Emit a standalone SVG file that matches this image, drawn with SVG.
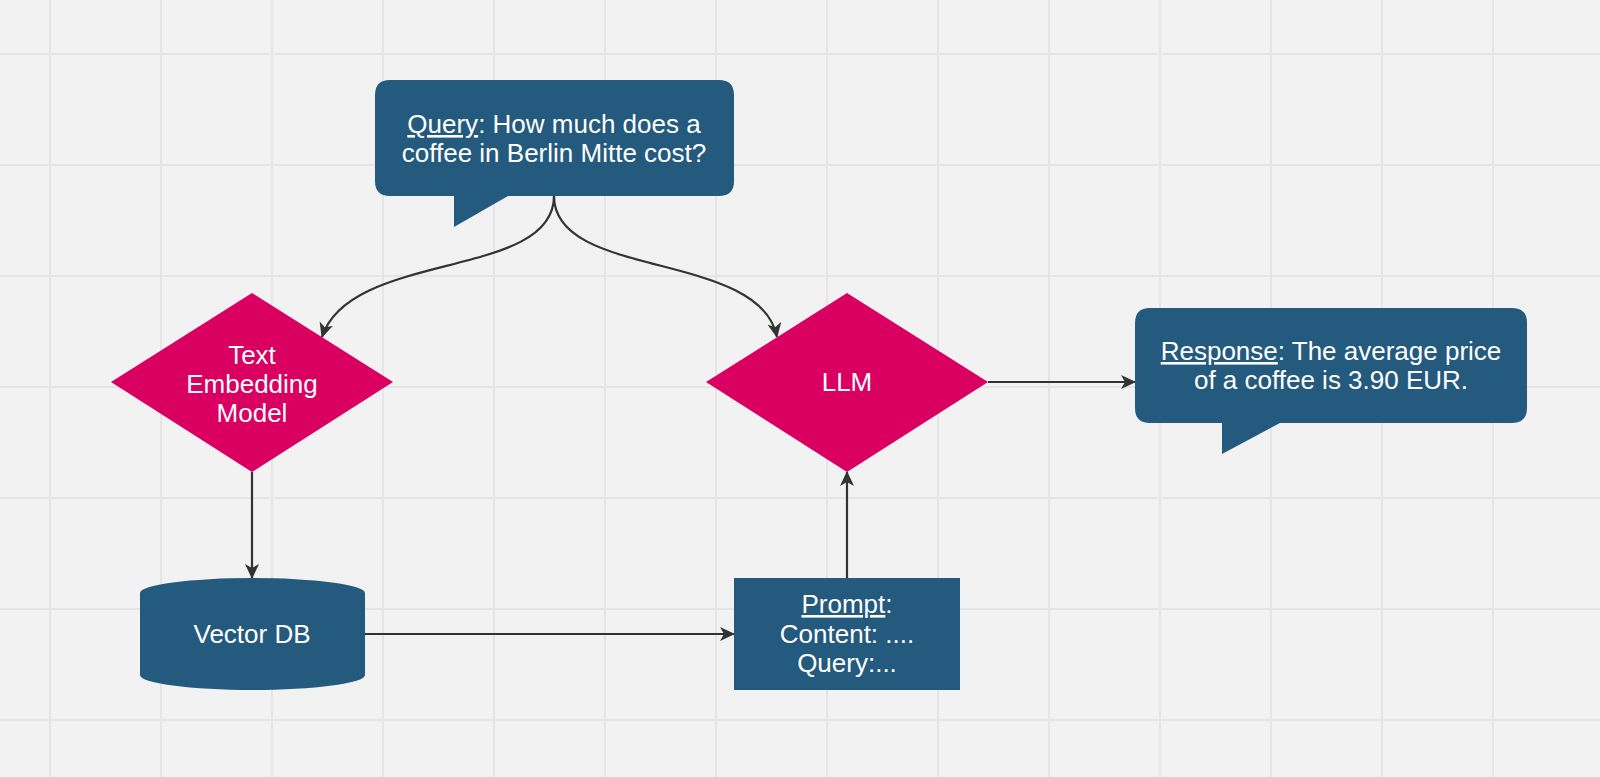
<svg xmlns="http://www.w3.org/2000/svg" width="1600" height="777" viewBox="0 0 1600 777">
  <defs>
    <style>
      .grid { stroke: #e5e5e5; stroke-width: 2; fill: none; }
      .blue { fill: #235a7e; }
      .pink { fill: #d90062; }
      .lbl { font-family: "Liberation Sans", Arial, sans-serif; font-size: 26px; fill: #ffffff; text-anchor: middle; }
      .conn { stroke: #333333; stroke-width: 2.2; fill: none; marker-end: url(#arrow); }
    </style>
    <marker id="arrow" markerUnits="userSpaceOnUse" markerWidth="16" markerHeight="16" refX="14" refY="8" orient="auto">
      <path d="M0,1 L15,8 L0,15 L4,8 Z" fill="#333333"/>
    </marker>
  </defs>

  <rect x="0" y="0" width="1600" height="777" fill="#f2f2f2"/>
  <g id="grid">
    <path class="grid" d="M50,0V777 M161,0V777 M272,0V777 M383,0V777 M494,0V777 M605,0V777 M716,0V777 M827,0V777 M938,0V777 M1049,0V777 M1160,0V777 M1271,0V777 M1382,0V777 M1493,0V777
      M0,54H1600 M0,165H1600 M0,276H1600 M0,387H1600 M0,498H1600 M0,609H1600 M0,720H1600"/>
  </g>

  <g id="connectors">
    <path class="conn" d="M554,196 C554,280 350,250 322,337"/>
    <path class="conn" d="M554,196 C554,280 760,250 777,337"/>
    <path class="conn" d="M252,472 L252,578"/>
    <path class="conn" d="M365,634 L734,634"/>
    <path class="conn" d="M847,578 L847,472"/>
    <path class="conn" d="M988,382 L1135,382"/>
  </g>

  <g id="query">
    <path class="blue" d="M390,80 H719 Q734,80 734,95 V181 Q734,196 719,196 H508 L454,227 V196 H390 Q375,196 375,181 V95 Q375,80 390,80 Z"/>
    <text class="lbl" x="554" y="133"><tspan text-decoration="underline">Query</tspan>: How much does a</text>
    <text class="lbl" x="554" y="162">coffee in Berlin Mitte cost?</text>
  </g>

  <g id="text-embedding-model">
    <polygon class="pink" points="252,293 393,382 252,472 111,382"/>
    <text class="lbl" x="252" y="364">Text</text>
    <text class="lbl" x="252" y="393">Embedding</text>
    <text class="lbl" x="252" y="422">Model</text>
  </g>

  <g id="vector-db">
    <path class="blue" d="M140,593 A112.5,15 0 0 1 365,593 V675 A112.5,15 0 0 1 140,675 Z"/>
    <text class="lbl" x="252" y="643">Vector DB</text>
  </g>

  <g id="llm">
    <polygon class="pink" points="847,293 988,382 847,472 706,382"/>
    <text class="lbl" x="847" y="391">LLM</text>
  </g>

  <g id="prompt">
    <rect class="blue" x="734" y="578" width="226" height="112"/>
    <text class="lbl" x="847" y="613"><tspan text-decoration="underline">Prompt</tspan>:</text>
    <text class="lbl" x="847" y="643">Content: ....</text>
    <text class="lbl" x="847" y="672">Query:...</text>
  </g>

  <g id="response">
    <path class="blue" d="M1150,308 H1512 Q1527,308 1527,323 V408 Q1527,423 1512,423 H1280 L1222,454 V423 H1150 Q1135,423 1135,408 V323 Q1135,308 1150,308 Z"/>
    <text class="lbl" x="1331" y="360"><tspan text-decoration="underline">Response</tspan>: The average price</text>
    <text class="lbl" x="1331" y="389">of a coffee is 3.90 EUR.</text>
  </g>
</svg>
